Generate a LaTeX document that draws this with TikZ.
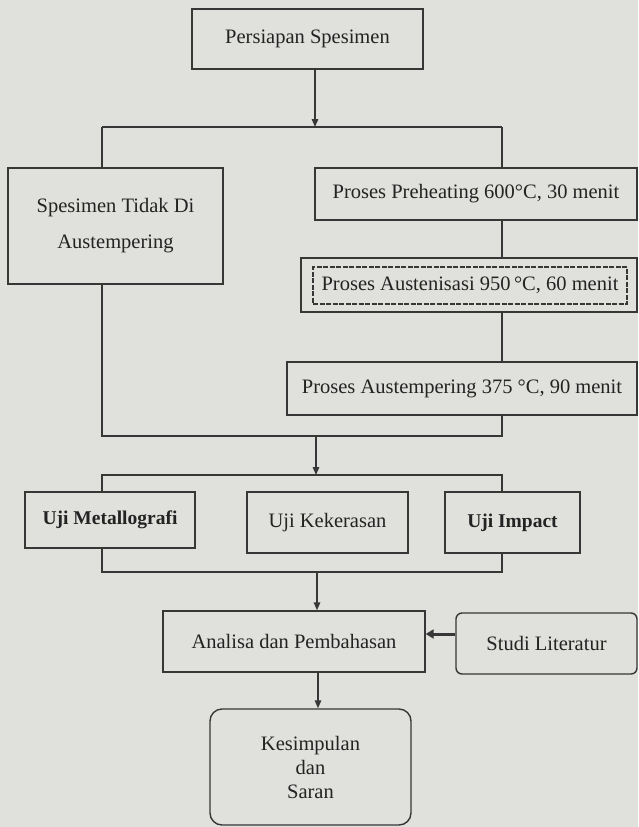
\documentclass[tikz,border=0pt]{standalone}
\usepackage{fontspec}
\setmainfont{Liberation Serif}
\usetikzlibrary{arrows.meta}
\definecolor{bgc}{RGB}{224,224,221}
\definecolor{lnc}{RGB}{55,55,55}
\definecolor{txc}{RGB}{35,35,35}
\tikzset{
  box/.style={draw=lnc, line width=1.4pt, fill=bgc, rectangle, inner sep=0pt,
    text=txc, align=center, font=\fontsize{20.5pt}{24pt}\selectfont},
  boldbox/.style={box, font=\fontsize{19.5pt}{24pt}\selectfont\bfseries},
  rbox/.style={box, rounded corners=#1},
  conn/.style={draw=lnc, line width=1.4pt},
  arr/.style={conn, -{Triangle[length=8pt,width=6.5pt]}},
  thickarr/.style={draw=lnc, line width=3pt, -{Triangle[length=8pt,width=9pt]}},
}
\begin{document}
\begin{tikzpicture}[x=1pt,y=-1pt]
\fill[bgc] (0,0) rectangle (638,827);
\useasboundingbox (0,0) rectangle (638,827);

% nodes
\node[box, minimum width=231pt, minimum height=60pt] (persiapan) at (307.5,39) {Persiapan Spesimen};
\node[box, minimum width=215pt, minimum height=116pt] (tidak) at (115.5,226) {Spesimen Tidak Di\\[12pt]Austempering};
\node[box, minimum width=322pt, minimum height=52pt] (preheat) at (476,194) {Proses Preheating 600°C, 30 menit};
\node[box, minimum width=336pt, minimum height=54pt] (austen) at (469,285) {};
\node[box, dash pattern=on 5pt off 1.5pt, line width=1.2pt, minimum width=314pt, minimum height=37pt] (austeninner) at (470,285.5) {Proses Austenisasi 950\,°C, 60 menit};
\node[box, minimum width=350pt, minimum height=53pt] (austemp) at (462,388.5) {Proses Austempering 375 °C, 90 menit};
\node[boldbox, minimum width=170pt, minimum height=56pt] (metal) at (110,520) {Uji Metallografi};
\node[box, minimum width=161pt, minimum height=61pt] (keker) at (327.5,522.5) {Uji Kekerasan};
\node[boldbox, minimum width=135pt, minimum height=61pt] (impact) at (512.5,522.5) {Uji Impact};
\node[box, minimum width=262pt, minimum height=61pt] (analisa) at (294,641.5) {Analisa dan Pembahasan};
\node[rbox=6pt, minimum width=181pt, minimum height=61pt] (studi) at (546.5,643.5) {Studi Literatur};
\node[rbox=12pt, minimum width=201pt, minimum height=116pt] (kesimpulan) at (310.5,767) {Kesimpulan\\dan\\Saran};

% coordinates of the bars
\coordinate (b1l) at (102,127); \coordinate (b1m) at (315,127); \coordinate (b1r) at (502,127);
\coordinate (b2l) at (102,436); \coordinate (b2m) at (316,436); \coordinate (b2r) at (502,436);
\coordinate (b3l) at (102,475); \coordinate (b3m) at (316,475); \coordinate (b3r) at (502,475);
\coordinate (b4l) at (102,572); \coordinate (b4m) at (317,572); \coordinate (b4r) at (502,572);
\coordinate (ak) at (318,672);
\coordinate (sa) at (456,634);

% connectors
\draw[conn] (b1l) -- (b1r);
\draw[arr] (persiapan.south -| b1m) -- (b1m);
\draw[conn] (b1l) -- (tidak.north -| b1l);
\draw[conn] (b1r) -- (preheat.north -| b1r);
\draw[conn] (preheat.south -| b1r) -- (austen.north -| b1r);
\draw[conn] (austen.south -| b1r) -- (austemp.north -| b1r);
\draw[conn] (tidak.south -| b2l) -- (b2l) -- (b2r) -- (austemp.south -| b2r);
\draw[arr] (b2m) -- (b3m);
\draw[conn] (metal.north -| b3l) -- (b3l) -- (b3r) -- (impact.north -| b3r);
\draw[conn] (metal.south -| b4l) -- (b4l) -- (b4r) -- (impact.south -| b4r);
\draw[arr] (b4m) -- (analisa.north -| b4m);
\draw[arr] (analisa.south -| ak) -- (kesimpulan.north -| ak);
\draw[thickarr] (studi.west |- sa) -- (analisa.east |- sa);
\end{tikzpicture}
\end{document}
